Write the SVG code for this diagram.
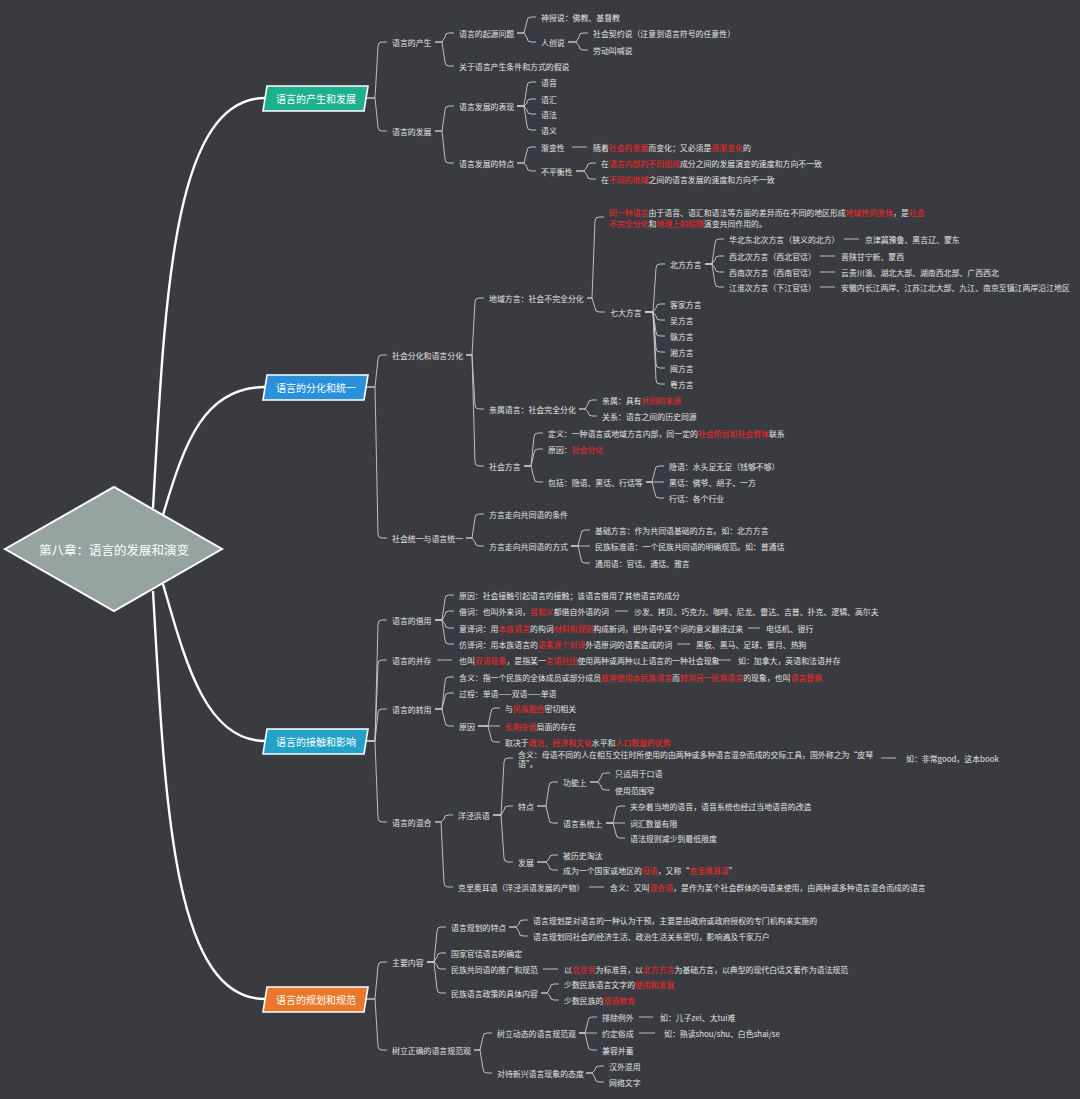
<svg xmlns="http://www.w3.org/2000/svg" width="1080" height="1099" viewBox="0 0 1080 1099">
<defs>
<style>
.t{font-family:"Noto Sans CJK SC","Liberation Sans",sans-serif;font-size:7.9px;fill:#e4e4e4;dominant-baseline:central}
.r{fill:#ff2424}
.l{fill:none;stroke:#cdcdcd;stroke-width:0.9}
.rc{fill:none;stroke:#ffffff;stroke-width:2.4}
.box{stroke:#ffffff;stroke-width:1.6}
.bt{font-family:"Noto Sans CJK SC","Liberation Sans",sans-serif;font-size:10px;fill:#ffffff;text-anchor:middle;dominant-baseline:central}
</style>
</defs>
<rect x="0" y="0" width="1080" height="1099" fill="#393b40"/>
<g id="connectors">
<path class="rc" d="M153 508C165 300 172 98 265 98"/>
<path class="rc" d="M163 515C185 440 205 387 265 387"/>
<path class="rc" d="M163 584C185 660 205 741 265 741"/>
<path class="rc" d="M153 591C165 800 172 999 265 999"/>
<path class="l" d="M366 98H375L378 46Q378 42 382 42H387M366 98H375L378 127Q378 131 382 131H387"/>
<path class="l" d="M435 42H442L445 37Q445 33 449 33H454M435 42H442L445 62Q445 66 449 66H454"/>
<path class="l" d="M517 33H524L527 21Q527 17 531 17H536M517 33H524L527 38Q527 42 531 42H536"/>
<path class="l" d="M568 42H576L579 37Q579 33 583 33H588M568 42H576L579 46Q579 50 583 50H588"/>
<path class="l" d="M435 131H442L445 110Q445 106 449 106H454M435 131H442L445 159Q445 163 449 163H454"/>
<path class="l" d="M517 106H524L527 86Q527 82 531 82H536M517 106H524L527 103Q527 99 531 99H536M517 106H524L527 110Q527 114 531 114H536M517 106H524L527 126Q527 130 531 130H536"/>
<path class="l" d="M517 163H524L527 151Q527 147 531 147H536M517 163H524L527 167Q527 171 531 171H536"/>
<path class="l" d="M572 147H587"/>
<path class="l" d="M576 171H584L587 167Q587 163 591 163H596M576 171H584L587 175Q587 179 591 179H596"/>
<path class="l" d="M366 387H375L378 359Q378 355 382 355H387M366 387H375L378 534Q378 538 382 538H387"/>
<path class="l" d="M466 355H472L475 302Q475 298 479 298H484M466 355H472L475 405Q475 409 479 409H484M466 355H472L475 462Q475 466 479 466H484"/>
<path class="l" d="M587 298H592L595 221Q595 217 599 217H604M587 298H592L595 308Q595 312 599 312H605"/>
<path class="l" d="M645 312H653L656 268Q656 264 660 264H665M645 312H653L656 308Q656 304 660 304H665M645 312H653L656 316Q656 320 660 320H665M645 312H653L656 332Q656 336 660 336H665M645 312H653L656 348Q656 352 660 352H665M645 312H653L656 364Q656 368 660 368H665M645 312H653L656 380Q656 384 660 384H665"/>
<path class="l" d="M705 264H712L715 243Q715 239 719 239H724M705 264H712L715 260Q715 256 719 256H724M705 264H712L715 268Q715 272 719 272H724M705 264H712L715 283Q715 287 719 287H724"/>
<path class="l" d="M844 239H859M820 256H835M820 272H835M820 287H835"/>
<path class="l" d="M579 409H585L588 404Q588 400 592 400H597M579 409H585L588 412Q588 416 592 416H597"/>
<path class="l" d="M524 466H531L534 437Q534 433 538 433H543M524 466H531L534 453Q534 449 538 449H543M524 466H531L534 478Q534 482 538 482H543"/>
<path class="l" d="M646 482H652L655 470Q655 466 659 466H664M646 482H664M646 482H652L655 494Q655 498 659 498H664"/>
<path class="l" d="M466 538H472L475 518Q475 514 479 514H484M466 538H472L475 542Q475 546 479 546H484"/>
<path class="l" d="M571 546H578L581 534Q581 530 585 530H590M571 546H590M571 546H578L581 559Q581 563 585 563H590"/>
<path class="l" d="M366 741H375L378 624Q378 620 382 620H387M366 741H375L378 664Q378 660 382 660H387M366 741H375L378 713Q378 709 382 709H387M366 741H375L378 818Q378 822 382 822H387"/>
<path class="l" d="M435 620H442L445 599Q445 595 449 595H454M435 620H442L445 615Q445 611 449 611H454M435 620H442L445 624Q445 628 449 628H454M435 620H442L445 640Q445 644 449 644H454"/>
<path class="l" d="M615 611H628M748 628H760M677 644H690M437 660H452M717 660H731"/>
<path class="l" d="M435 709H442L445 681Q445 677 449 677H454M435 709H442L445 697Q445 693 449 693H454M435 709H442L445 722Q445 726 449 726H454"/>
<path class="l" d="M478 726H488L491 712Q491 708 495 708H500M478 726H500M478 726H488L491 738Q491 742 495 742H500"/>
<path class="l" d="M435 822H441L444 819Q444 815 448 815H453M435 822H441L444 883Q444 887 448 887H453"/>
<path class="l" d="M493 815H501L504 762Q504 758 508 758H513M493 815H501L504 810Q504 806 508 806H513M493 815H501L504 858Q504 862 508 862H513"/>
<path class="l" d="M881 758H896M589 887H604"/>
<path class="l" d="M537 806H546L549 786Q549 782 553 782H558M537 806H546L549 819Q549 823 553 823H558"/>
<path class="l" d="M590 782H598L601 777Q601 773 605 773H610M590 782H598L601 786Q601 790 605 790H610"/>
<path class="l" d="M606 823H613L616 810Q616 806 620 806H625M606 823H625M606 823H613L616 834Q616 838 620 838H625"/>
<path class="l" d="M537 862H546L549 859Q549 855 553 855H558M537 862H546L549 866Q549 870 553 870H558"/>
<path class="l" d="M366 999H375L378 966Q378 962 382 962H387M366 999H375L378 1046Q378 1050 382 1050H387"/>
<path class="l" d="M427 962H434L437 931Q437 927 441 927H446M427 962H434L437 957Q437 953 441 953H446M427 962H434L437 965Q437 969 441 969H446M427 962H434L437 989Q437 993 441 993H446"/>
<path class="l" d="M509 927H516L519 924Q519 920 523 920H528M509 927H516L519 932Q519 936 523 936H528"/>
<path class="l" d="M543 969H558"/>
<path class="l" d="M541 993H547L550 988Q550 984 554 984H559M541 993H547L550 996Q550 1000 554 1000H559"/>
<path class="l" d="M474 1050H480L483 1037Q483 1033 487 1033H492M474 1050H480L483 1069Q483 1073 487 1073H492"/>
<path class="l" d="M579 1033H585L588 1021Q588 1017 592 1017H597M579 1033H597M579 1033H585L588 1046Q588 1050 592 1050H597"/>
<path class="l" d="M639 1017H653M639 1033H655"/>
<path class="l" d="M586 1073H592L595 1070Q595 1066 599 1066H604M586 1073H592L595 1078Q595 1082 599 1082H604"/>
</g>
<g id="root">
<polygon points="5,549 114,487 222,549 114,611" fill="#97a3a1" stroke="#ffffff" stroke-width="2"/>
<text x="114" y="549" class="bt" style="font-size:12.5px">第八章：语言的发展和演变</text>
</g>
<g id="cat1"><polygon class="box" points="267,86 368,86 364,111 263,111" fill="#1eb08c"/><text class="bt" x="316" y="98.5">语言的产生和发展</text></g>
<g id="cat2"><polygon class="box" points="267,375 368,375 364,400 263,400" fill="#2b90db"/><text class="bt" x="316" y="387.5">语言的分化和统一</text></g>
<g id="cat3"><polygon class="box" points="267,729 368,729 364,754 263,754" fill="#22a1c9"/><text class="bt" x="316" y="741.5">语言的接触和影响</text></g>
<g id="cat4"><polygon class="box" points="267,987 368,987 364,1012 263,1012" fill="#ea772b"/><text class="bt" x="316" y="999.5">语言的规划和规范</text></g>

<g id="n1"><text class="t" x="392" y="42">语言的产生</text></g>
<g id="n2"><text class="t" x="459" y="33">语言的起源问题</text></g>
<g id="n3"><text class="t" x="541" y="17">神授说：佛教、基督教</text></g>
<g id="n4"><text class="t" x="541" y="42">人创说</text></g>
<g id="n5"><text class="t" x="593" y="33">社会契约说（注意到语言符号的任意性）</text></g>
<g id="n6"><text class="t" x="593" y="50">劳动叫喊说</text></g>
<g id="n7"><text class="t" x="459" y="66">关于语言产生条件和方式的假说</text></g>
<g id="n8"><text class="t" x="392" y="131">语言的发展</text></g>
<g id="n9"><text class="t" x="459" y="106">语言发展的表现</text></g>
<g id="n10"><text class="t" x="541" y="82">语音</text></g>
<g id="n11"><text class="t" x="541" y="99">语汇</text></g>
<g id="n12"><text class="t" x="541" y="114">语法</text></g>
<g id="n13"><text class="t" x="541" y="130">语义</text></g>
<g id="n14"><text class="t" x="459" y="163">语言发展的特点</text></g>
<g id="n15"><text class="t" x="541" y="147">渐变性</text></g>
<g id="n16"><text class="t" x="593" y="147">随着<tspan class="r">社会的发展</tspan>而变化；又必须是<tspan class="r">逐渐变化</tspan>的</text></g>
<g id="n17"><text class="t" x="541" y="171">不平衡性</text></g>
<g id="n18"><text class="t" x="601" y="163">在<tspan class="r">语言内部的不同组成</tspan>成分之间的发展演变的速度和方向不一致</text></g>
<g id="n19"><text class="t" x="601" y="179">在<tspan class="r">不同的地域</tspan>之间的语言发展的速度和方向不一致</text></g>

<g id="n20"><text class="t" x="392" y="355">社会分化和语言分化</text></g>
<g id="n21"><text class="t" x="489" y="298">地域方言：社会不完全分化</text></g>
<g id="n22"><text class="t" x="609" y="212"><tspan class="r">同一种语言</tspan>由于语音、语汇和语法等方面的差异而在不同的地区形成<tspan class="r">地域性的变体</tspan>，是<tspan class="r">社会</tspan></text><text class="t" x="609" y="223"><tspan class="r">不完全分化</tspan>和<tspan class="r">地理上的阻隔</tspan>演变共同作用的。</text></g>
<g id="n23"><text class="t" x="610" y="312">七大方言</text></g>
<g id="n24"><text class="t" x="670" y="264">北方方言</text></g>
<g id="n25"><text class="t" x="729" y="239">华北东北次方言（狭义的北方）</text><text class="t" x="865" y="239">京津冀豫鲁、黑吉辽、蒙东</text></g>
<g id="n26"><text class="t" x="729" y="256">西北次方言（西北官话）</text><text class="t" x="841" y="256">晋陕甘宁新、蒙西</text></g>
<g id="n27"><text class="t" x="729" y="272">西南次方言（西南官话）</text><text class="t" x="841" y="272">云贵川渝、湖北大部、湖南西北部、广西西北</text></g>
<g id="n28"><text class="t" x="729" y="287">江淮次方言（下江官话）</text><text class="t" x="841" y="287">安徽内长江两岸、江苏江北大部、九江、南京至镇江两岸沿江地区</text></g>
<g id="n29"><text class="t" x="670" y="304">客家方言</text></g>
<g id="n30"><text class="t" x="670" y="320">吴方言</text></g>
<g id="n31"><text class="t" x="670" y="336">赣方言</text></g>
<g id="n32"><text class="t" x="670" y="352">湘方言</text></g>
<g id="n33"><text class="t" x="670" y="368">闽方言</text></g>
<g id="n34"><text class="t" x="670" y="384">粤方言</text></g>
<g id="n35"><text class="t" x="489" y="409">亲属语言：社会完全分化</text></g>
<g id="n36"><text class="t" x="602" y="400">亲属：具有<tspan class="r">共同的来源</tspan></text></g>
<g id="n37"><text class="t" x="602" y="416">关系：语言之间的历史同源</text></g>
<g id="n38"><text class="t" x="489" y="466">社会方言</text></g>
<g id="n39"><text class="t" x="548" y="433">定义：一种语言或地域方言内部，同一定的<tspan class="r">社会阶层和社会群体</tspan>联系</text></g>
<g id="n40"><text class="t" x="548" y="449">原因：<tspan class="r">社会分化</tspan></text></g>
<g id="n41"><text class="t" x="548" y="482">包括：隐语、黑话、行话等</text></g>
<g id="n42"><text class="t" x="669" y="466">隐语：水头足无足（钱够不够）</text></g>
<g id="n43"><text class="t" x="669" y="482">黑话：佛爷、胡子、一方</text></g>
<g id="n44"><text class="t" x="669" y="498">行话：各个行业</text></g>
<g id="n45"><text class="t" x="392" y="538">社会统一与语言统一</text></g>
<g id="n46"><text class="t" x="489" y="514">方言走向共同语的条件</text></g>
<g id="n47"><text class="t" x="489" y="546">方言走向共同语的方式</text></g>
<g id="n48"><text class="t" x="595" y="530">基础方言：作为共同语基础的方言。如：北方方言</text></g>
<g id="n49"><text class="t" x="595" y="546">民族标准语：一个民族共同语的明确规范。如：普通话</text></g>
<g id="n50"><text class="t" x="595" y="563">通用语：官话、通话、雅言</text></g>

<g id="n51"><text class="t" x="392" y="620">语言的借用</text></g>
<g id="n52"><text class="t" x="459" y="595">原因：社会接触引起语言的接触；该语言借用了其他语言的成分</text></g>
<g id="n53"><text class="t" x="459" y="611">借词：也叫外来词，<tspan class="r">音和义</tspan>都借自外语的词</text><text class="t" x="634" y="611">沙发、拷贝、巧克力、咖啡、尼龙、雷达、吉普、扑克、逻辑、高尔夫</text></g>
<g id="n54"><text class="t" x="459" y="628">意译词：用<tspan class="r">本族语言</tspan>的构词<tspan class="r">材料和规则</tspan>构成新词，把外语中某个词的意义翻译过来</text><text class="t" x="766" y="628">电话机、银行</text></g>
<g id="n55"><text class="t" x="459" y="644">仿译词：用本族语言的<tspan class="r">语素逐个对译</tspan>外语原词的语素造成的词</text><text class="t" x="696" y="644">黑板、黑马、足球、蜜月、热狗</text></g>
<g id="n56"><text class="t" x="392" y="660">语言的并存</text><text class="t" x="459" y="660">也叫<tspan class="r">双语现象</tspan>，是指某一<tspan class="r">言语社团</tspan>使用两种或两种以上语言的一种社会现象</text><text class="t" x="738" y="660">如：加拿大，英语和法语并存</text></g>
<g id="n57"><text class="t" x="392" y="709">语言的转用</text></g>
<g id="n58"><text class="t" x="459" y="677">含义：指一个民族的全体成员或部分成员<tspan class="r">放弃使用本民族语言</tspan>而<tspan class="r">转用另一民族语言</tspan>的现象，也叫<tspan class="r">语言替换</tspan></text></g>
<g id="n59"><text class="t" x="459" y="693">过程：单语——双语——单语</text></g>
<g id="n60"><text class="t" x="459" y="726">原因</text></g>
<g id="n61"><text class="t" x="505" y="708">与<tspan class="r">民族融合</tspan>密切相关</text></g>
<g id="n62"><text class="t" x="505" y="726"><tspan class="r">长期杂居</tspan>局面的存在</text></g>
<g id="n63"><text class="t" x="505" y="742">取决于<tspan class="r">政治、经济和文化</tspan>水平和<tspan class="r">人口数量的优势</tspan></text></g>
<g id="n64"><text class="t" x="392" y="822">语言的混合</text></g>
<g id="n65"><text class="t" x="458" y="815">洋泾浜语</text></g>
<g id="n66"><text class="t" x="518" y="754">含义：母语不同的人在相互交往时所使用的由两种或多种语言混杂而成的交际工具，国外称之为“皮琴</text><text class="t" x="518" y="763">语”。</text><text class="t" x="906" y="758">如：非常good，这本book</text></g>
<g id="n67"><text class="t" x="518" y="806">特点</text></g>
<g id="n68"><text class="t" x="563" y="782">功能上</text></g>
<g id="n69"><text class="t" x="615" y="773">只适用于口语</text></g>
<g id="n70"><text class="t" x="615" y="790">使用范围窄</text></g>
<g id="n71"><text class="t" x="563" y="823">语言系统上</text></g>
<g id="n72"><text class="t" x="630" y="806">夹杂着当地的语音，语音系统也经过当地语音的改造</text></g>
<g id="n73"><text class="t" x="630" y="823">词汇数量有限</text></g>
<g id="n74"><text class="t" x="630" y="838">语法规则减少到最低限度</text></g>
<g id="n75"><text class="t" x="518" y="862">发展</text></g>
<g id="n76"><text class="t" x="563" y="855">被历史淘汰</text></g>
<g id="n77"><text class="t" x="563" y="870">成为一个国家或地区的<tspan class="r">母语</tspan>，又称“<tspan class="r">克里奥耳语</tspan>”</text></g>
<g id="n78"><text class="t" x="458" y="887">克里奥耳语（洋泾浜语发展的产物）</text><text class="t" x="610" y="887">含义：又叫<tspan class="r">混合语</tspan>，是作为某个社会群体的母语来使用，由两种或多种语言混合而成的语言</text></g>

<g id="n79"><text class="t" x="392" y="962">主要内容</text></g>
<g id="n80"><text class="t" x="451" y="927">语言规划的特点</text></g>
<g id="n81"><text class="t" x="533" y="920">语言规划是对语言的一种认为干预，主要是由政府或政府授权的专门机构来实施的</text></g>
<g id="n82"><text class="t" x="533" y="936">语言规划同社会的经济生活、政治生活关系密切，影响遍及千家万户</text></g>
<g id="n83"><text class="t" x="451" y="953">国家官话语言的确定</text></g>
<g id="n84"><text class="t" x="451" y="969">民族共同语的推广和规范</text><text class="t" x="564" y="969">以<tspan class="r">北京音</tspan>为标准音，以<tspan class="r">北方方言</tspan>为基础方言，以典型的现代白话文著作为语法规范</text></g>
<g id="n85"><text class="t" x="451" y="993">民族语言政策的具体内容</text></g>
<g id="n86"><text class="t" x="564" y="984">少数民族语言文字的<tspan class="r">使用和发展</tspan></text></g>
<g id="n87"><text class="t" x="564" y="1000">少数民族的<tspan class="r">双语教育</tspan></text></g>
<g id="n88"><text class="t" x="392" y="1050">树立正确的语言规范观</text></g>
<g id="n89"><text class="t" x="497" y="1033">树立动态的语言规范观</text></g>
<g id="n90"><text class="t" x="602" y="1017">排除例外</text><text class="t" x="660" y="1017">如：儿子zei、太tui难</text></g>
<g id="n91"><text class="t" x="602" y="1033">约定俗成</text><text class="t" x="664" y="1033">如：熟读shou/shu、白色shai/se</text></g>
<g id="n92"><text class="t" x="602" y="1050">兼容并蓄</text></g>
<g id="n93"><text class="t" x="497" y="1073">对待新兴语言现象的态度</text></g>
<g id="n94"><text class="t" x="609" y="1066">汉外混用</text></g>
<g id="n95"><text class="t" x="609" y="1082">网络文字</text></g>
</svg>
